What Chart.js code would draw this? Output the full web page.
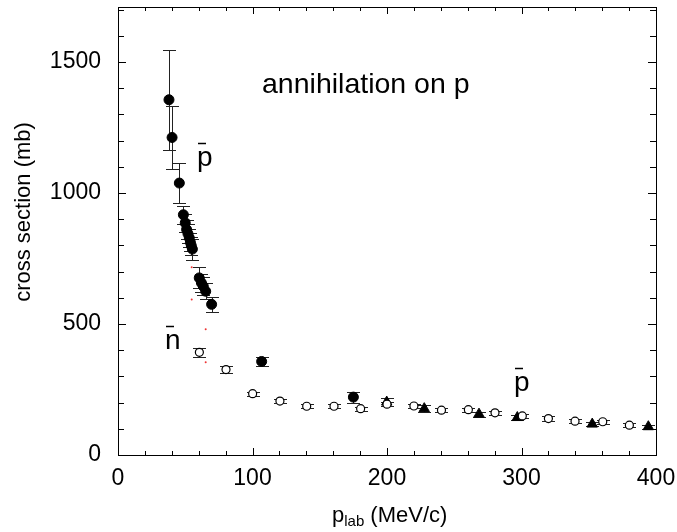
<!DOCTYPE html>
<html>
<head>
<meta charset="utf-8">
<script src="https://cdn.jsdelivr.net/npm/chart.js@4.4.0/dist/chart.umd.min.js"></script>
<style>
html, body { margin: 0; padding: 0; background: #fff; }
</style>
</head>
<body>
<canvas id="myChart" width="677" height="532"></canvas>
<script>
// pbar annihilation, filled circles
var filledX = [37.9, 40.2, 45.6, 48.6, 50.0, 51.0, 52.0, 53.0, 53.8, 54.5, 55.3, 60.4, 62.0, 63.4, 65.2, 69.6, 106.8, 175.0];
var filledY = [1356, 1212, 1038, 917, 886, 861, 845, 829, 812, 799, 786, 676, 657, 644, 625, 575, 357, 221];
var filledErr = [190, 122, 75, 35, 35, 35, 35, 35, 35, 35, 40, 40, 35, 35, 30, 28, 17, 21];

// nbar, open circles
var openX = [60.5, 80.3, 100.1, 120.4, 140.3, 160.6, 180.4, 200.0, 220.0, 240.5, 260.5, 280.3, 300.6, 320.0, 339.8, 360.4, 380.2];
var openY = [392, 326, 234, 206, 186, 186, 177, 194, 187, 171, 173, 161, 149, 139, 129, 127, 114];
var openErr = [18, 12, 8, 8, 8, 8, 8, 8, 8, 8, 8, 8, 8, 8, 8, 8, 8];

// pbar, filled triangles
var triX = [199.8, 227.7, 268.4, 296.9, 352.6, 394.3];
var triY = [202, 177, 156, 143, 118, 108];
var triErr = [16, 12, 10, 10, 8, 8];

// small red marks
var redX = [54.8, 54.8, 65.2, 65.2];
var redY = [717, 594, 480, 354];

var xTickVals = [0, 100, 200, 300, 400];
var yTickVals = [0, 500, 1000, 1500];

var FONT = '"Liberation Sans", Arial, Helvetica, sans-serif';

function pts(xs, ys) {
    var out = [];
    for (var i = 0; i < xs.length; i++) out.push({x: xs[i], y: ys[i]});
    return out;
}

var errSets = [
    {x: filledX, y: filledY, e: filledErr},
    {x: openX, y: openY, e: openErr},
    {x: triX, y: triY, e: triErr}
];

var errorBars = {
    id: 'errorBars',
    beforeDatasetsDraw: function (chart) {
        var ctx = chart.ctx, xs = chart.scales.x, ys = chart.scales.y;
        ctx.save();
        ctx.strokeStyle = '#222';
        ctx.lineWidth = 1;
        errSets.forEach(function (s) {
            for (var i = 0; i < s.x.length; i++) {
                var px = Math.round(xs.getPixelForValue(s.x[i])) + 0.5;
                var top = Math.round(ys.getPixelForValue(s.y[i] + s.e[i])) + 0.5;
                var bot = Math.round(ys.getPixelForValue(s.y[i] - s.e[i])) + 0.5;
                ctx.beginPath();
                ctx.moveTo(px, top); ctx.lineTo(px, bot);
                ctx.moveTo(px - 6.5, top); ctx.lineTo(px + 6.5, top);
                ctx.moveTo(px - 6.5, bot); ctx.lineTo(px + 6.5, bot);
                ctx.stroke();
            }
        });
        ctx.restore();
    }
};

var frame = {
    id: 'frame',
    afterDraw: function (chart) {
        var ctx = chart.ctx, a = chart.chartArea, xs = chart.scales.x, ys = chart.scales.y;
        ctx.save();
        ctx.strokeStyle = '#000';
        ctx.lineWidth = 1;
        ctx.strokeRect(a.left + 0.5, a.top + 0.5, a.right - a.left, a.bottom - a.top);
        ctx.beginPath();
        for (var v = 0; v <= 400; v += 20) {
            var px = Math.round(xs.getPixelForValue(v)) + 0.5;
            var len = (v % 100 === 0) ? 7 : 4;
            ctx.moveTo(px, a.bottom); ctx.lineTo(px, a.bottom - len);
            ctx.moveTo(px, a.top); ctx.lineTo(px, a.top + len);
        }
        for (var w = 0; w <= 1700; w += 100) {
            var py = Math.round(ys.getPixelForValue(w)) + 0.5;
            var l2 = (w % 500 === 0) ? 8 : 6;
            ctx.moveTo(a.left, py); ctx.lineTo(a.left + l2, py);
            ctx.moveTo(a.right, py); ctx.lineTo(a.right - l2, py);
        }
        ctx.stroke();

        // labels
        ctx.fillStyle = '#000';
        ctx.textBaseline = 'alphabetic';
        ctx.textAlign = 'left';
        ctx.font = '28.5px ' + FONT;
        ctx.fillText('annihilation on p', 262, 93);

        function barred(ch, x, base) {
            ctx.font = '28px ' + FONT;
            ctx.fillText(ch, x, base);
            ctx.beginPath();
            ctx.moveTo(x + 1, base - 22.5);
            ctx.lineTo(x + 9, base - 22.5);
            ctx.lineWidth = 1.5;
            ctx.stroke();
        }
        barred('p', 197, 166);
        barred('n', 165, 349);
        barred('p', 514, 391);

        // axis titles
        ctx.font = '22px ' + FONT;
        ctx.save();
        ctx.translate(30, 212);
        ctx.rotate(-Math.PI / 2);
        ctx.textAlign = 'center';
        ctx.fillText('cross section (mb)', 0, 0);
        ctx.restore();

        var x0 = 332, base = 522;
        ctx.font = '22px ' + FONT;
        ctx.fillText('p', x0, base);
        var w1 = ctx.measureText('p').width;
        ctx.font = '15px ' + FONT;
        ctx.fillText('lab', x0 + w1, base + 4);
        var w2 = ctx.measureText('lab').width;
        ctx.font = '22px ' + FONT;
        ctx.fillText(' (MeV/c)', x0 + w1 + w2, base);
        ctx.restore();
    }
};

function plain(v) { return String(v); }

var ctx = document.getElementById('myChart').getContext('2d');
var chart = new Chart(ctx, {
    type: 'scatter',
    data: {
        datasets: [
            {
                label: 'red', data: pts(redX, redY),
                pointRadius: 1, backgroundColor: '#e33', borderColor: '#e33', borderWidth: 0
            },
            {
                label: 'nbar', data: pts(openX, openY),
                pointRadius: 4, pointStyle: 'circle',
                backgroundColor: '#fff', borderColor: '#000', borderWidth: 1.2
            },
            {
                label: 'pbar circles', data: pts(filledX, filledY),
                pointRadius: 5, pointStyle: 'circle',
                backgroundColor: '#000', borderColor: '#000', borderWidth: 1
            },
            {
                label: 'pbar triangles', data: pts(triX, triY),
                pointRadius: 6, pointStyle: 'triangle',
                backgroundColor: '#000', borderColor: '#000', borderWidth: 1
            }
        ]
    },
    options: {
        responsive: false,
        animation: false,
        layout: {padding: {left: 0, right: 21, top: 5, bottom: 0}},
        plugins: {legend: {display: false}, tooltip: {enabled: false}},
        scales: {
            x: {
                type: 'linear', min: 0, max: 400,
                grid: {display: false, drawTicks: false},
                border: {display: false},
                ticks: {font: {size: 23, family: FONT}, color: '#000', padding: 10, maxRotation: 0, callback: plain},
                afterBuildTicks: function (s) { s.ticks = xTickVals.map(function (v) { return {value: v}; }); },
                afterFit: function (s) { s.height = 77; s.paddingLeft = 0; s.paddingRight = 0; s.paddingTop = 0; s.paddingBottom = 0; }
            },
            y: {
                type: 'linear', min: 0, max: 1710,
                grid: {display: false, drawTicks: false},
                border: {display: false},
                ticks: {font: {size: 23, family: FONT}, color: '#000', padding: 17, callback: plain},
                afterBuildTicks: function (s) { s.ticks = yTickVals.map(function (v) { return {value: v}; }); },
                afterFit: function (s) { s.width = 118; s.paddingLeft = 0; s.paddingRight = 0; s.paddingTop = 0; s.paddingBottom = 0; }
            }
        }
    },
    plugins: [errorBars, frame]
});
</script>
</body>
</html>
